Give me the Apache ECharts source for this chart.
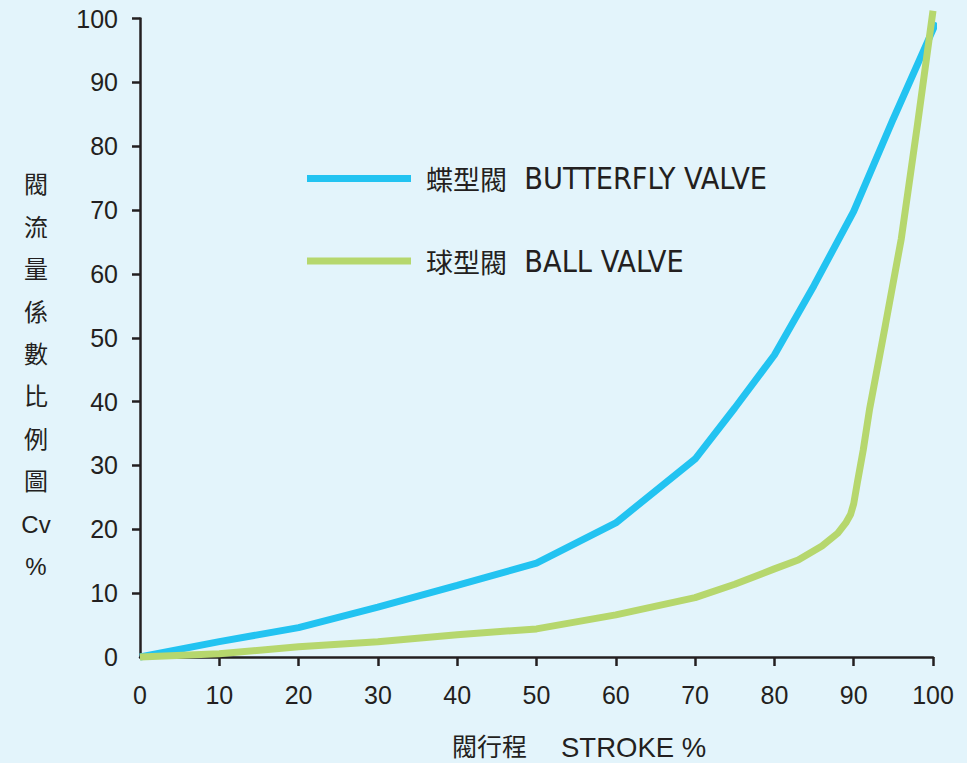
<!DOCTYPE html>
<html>
<head>
<meta charset="utf-8">
<script src="https://cdn.jsdelivr.net/npm/echarts@6/dist/echarts.min.js"></script>
<style>
html,body{margin:0;padding:0;background:#e3f4fb;}
#c{width:967px;height:763px;}
</style>
</head>
<body>
<div id="c"></div>
<script>
// ---- data ----
const seriesNames = ['蝶型閥 BUTTERFLY VALVE', '球型閥 BALL VALVE'];
const butterflyX = [0, 10, 20, 30, 40, 50, 60, 70, 75, 80, 85, 90, 95, 100.4];
const butterflyY = [0, 2.4, 4.6, 7.8, 11.2, 14.7, 21, 31, 39, 47.3, 58.2, 69.8, 84.3, 99.4];
const ballX = [0, 10, 20, 30, 40, 50, 60, 70, 75, 80, 83, 86, 88, 89, 89.6, 90, 90.5, 91.2, 92, 94, 96, 98, 100];
const ballY = [0, 0.5, 1.6, 2.4, 3.5, 4.4, 6.6, 9.3, 11.4, 13.8, 15.2, 17.4, 19.4, 21, 22.3, 24, 27.6, 32.4, 38.8, 52, 65.5, 83, 101.2];
const xTickValues = [10, 20, 30, 40, 50, 60, 70, 80, 90, 100];
const yTickValues = [10, 20, 30, 40, 50, 60, 70, 80, 90, 100];
const yAxisNameLines = ['閥', '流', '量', '係', '數', '比', '例', '圖', 'Cv', '%'];
const xAxisNameCJK = '閥行程';
const xAxisNameLatin = 'STROKE %';

const zip = (xs, ys) => xs.map((x, i) => [x, ys[i]]);
const INK = '#231f20';
const LATIN = '"Liberation Sans", Arial, "Noto Sans CJK TC", sans-serif';
const CJK = '"Noto Sans CJK TC", "Liberation Sans", sans-serif';
const NARROW = '"Liberation Sans Narrow", "DejaVu Sans Condensed", "Liberation Sans", sans-serif';

const chart = echarts.init(document.getElementById('c'), null, {renderer: 'svg'});

const legendRich = {
  c: {fontFamily: CJK, fontSize: 27, color: INK, lineHeight: 32},
  l: {fontFamily: NARROW, fontSize: 30.3, color: INK, lineHeight: 32}
};
function legendFmt(name) {
  const i = name.indexOf(' ');
  return '{c|' + name.slice(0, i) + '}{l|  ' + name.slice(i + 1) + '}';
}

chart.setOption({
  backgroundColor: '#e3f4fb',
  animation: false,
  grid: {left: 140, right: 34, top: 18.5, bottom: 106},
  legend: {
    orient: 'vertical',
    left: 307,
    top: 163.5,
    padding: 0,
    itemGap: 52.5,
    itemWidth: 104,
    itemHeight: 7,
    icon: 'rect',
    selectedMode: false,
    data: seriesNames,
    formatter: legendFmt,
    textStyle: {padding: [0, 0, 0, 10], rich: legendRich, color: INK}
  },
  xAxis: {
    type: 'value', min: 0, max: 100, interval: 10,
    splitLine: {show: false},
    axisLine: {lineStyle: {color: INK, width: 2.5}},
    axisTick: {length: 9, lineStyle: {color: INK, width: 2.5}, customValues: xTickValues},
    axisLabel: {color: INK, fontSize: 25, fontFamily: LATIN, margin: 25}
  },
  yAxis: {
    type: 'value', min: 0, max: 100, interval: 10,
    splitLine: {show: false},
    axisLine: {show: true, lineStyle: {color: INK, width: 2.5}},
    axisTick: {show: true, length: 8, lineStyle: {color: INK, width: 2.5}, customValues: yTickValues},
    axisLabel: {color: INK, fontSize: 25, fontFamily: LATIN, margin: 22}
  },
  graphic: [
    {
      type: 'text', x: 36, y: 163.8,
      style: {
        text: yAxisNameLines.join('\n'),
        fontFamily: LATIN, fontSize: 24, lineHeight: 42.4,
        fill: INK, align: 'center', verticalAlign: 'top'
      }
    },
    {
      type: 'text', x: 452, y: 745,
      style: {text: xAxisNameCJK, fontFamily: CJK, fontSize: 25, fill: INK, align: 'left', verticalAlign: 'middle'}
    },
    {
      type: 'text', x: 561, y: 747,
      style: {text: xAxisNameLatin, fontFamily: LATIN, fontSize: 27.5, fill: INK, align: 'left', verticalAlign: 'middle'}
    }
  ],
  series: [
    {
      name: seriesNames[0], type: 'line', data: zip(butterflyX, butterflyY),
      showSymbol: false, symbol: 'none', clip: false,
      color: '#22c3f1',
      lineStyle: {width: 7, color: '#22c3f1'}
    },
    {
      name: seriesNames[1], type: 'line', data: zip(ballX, ballY),
      showSymbol: false, symbol: 'none', clip: false,
      color: '#b6d76d',
      lineStyle: {width: 7, color: '#b6d76d'}
    }
  ]
});
</script>
</body>
</html>
